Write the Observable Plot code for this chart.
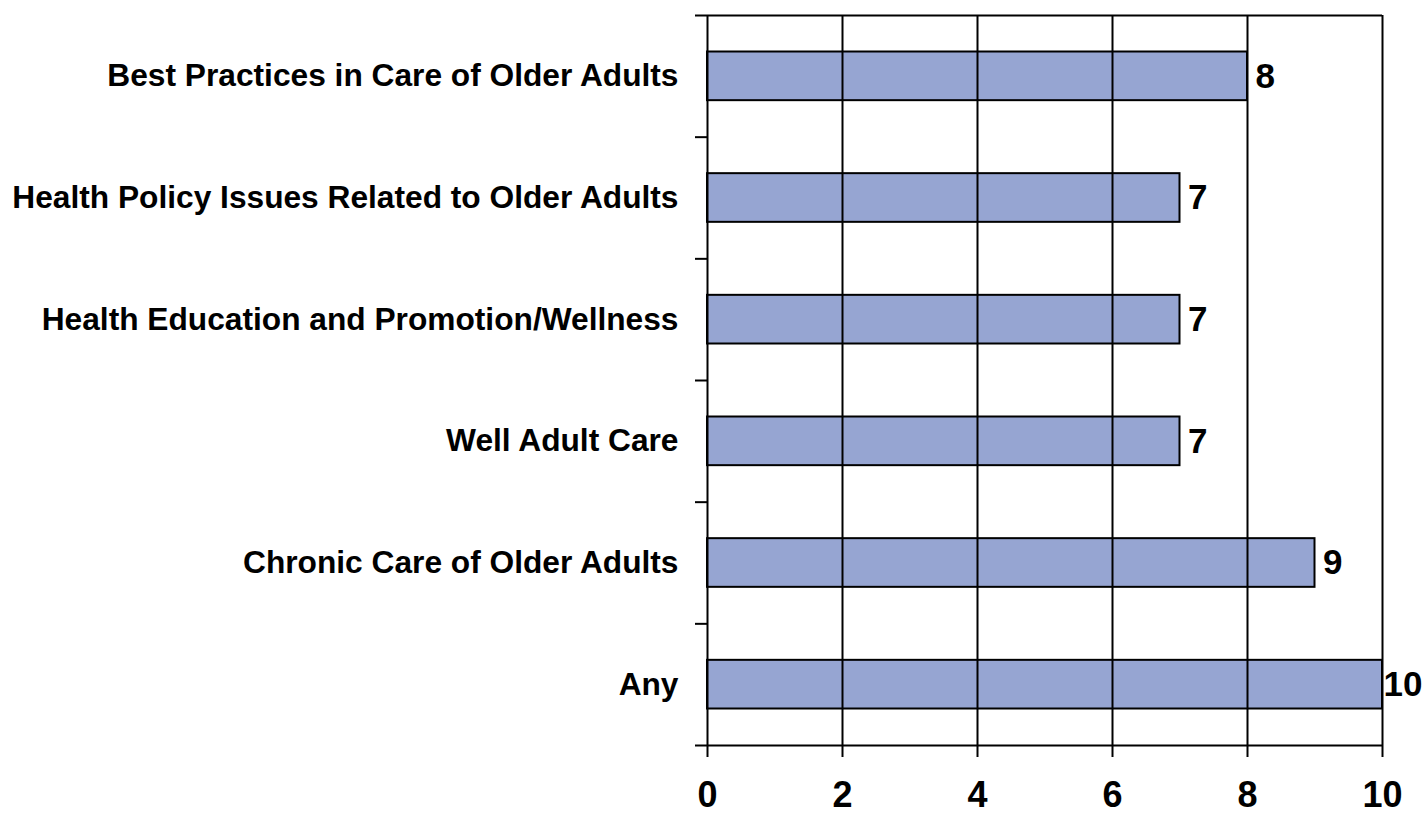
<!DOCTYPE html>
<html>
<head>
<meta charset="utf-8">
<script src="https://cdn.jsdelivr.net/npm/d3@7"></script>
<script src="https://cdn.jsdelivr.net/npm/@observablehq/plot@0.6"></script>
<style>
  html, body { margin: 0; padding: 0; background: #fff; }
</style>
</head>
<body>
<div id="chart"></div>
<script>
const categories = [
  "Best Practices in Care of Older Adults",
  "Health Policy Issues Related to Older Adults",
  "Health Education and Promotion/Wellness",
  "Well Adult Care",
  "Chronic Care of Older Adults",
  "Any"
];
const values = [8, 7, 7, 7, 9, 10];
const xTicks = [0, 2, 4, 6, 8, 10];

const rows = categories.map((c, i) => ({category: c, value: values[i], i}));
const bandEdges = d3.range(categories.length + 1);
const bandCenters = d3.range(categories.length).map(i => i + 0.5);
const xMax = d3.max(xTicks);

const chart = Plot.plot({
  width: 1425,
  height: 816,
  marginLeft: 707,
  marginRight: 43,
  marginTop: 15,
  marginBottom: 71,
  style: {fontFamily: "'Liberation Sans', Arial, sans-serif", fontWeight: "bold", color: "#000", background: "#fff"},
  x: {domain: [0, xMax], axis: null, label: null},
  y: {domain: [0, categories.length], reverse: true, axis: null, label: null},
  marks: [
    Plot.rectX(rows, {x1: 0, x2: "value", y1: d => d.i + 0.3, y2: d => d.i + 0.7, fill: "#96A5D2", stroke: "#000", strokeWidth: 2}),
    Plot.ruleX(xTicks, {y1: 0, y2: categories.length, stroke: "#000", strokeWidth: 2}),
    Plot.ruleY([0, categories.length], {x1: 0, x2: xMax, stroke: "#000", strokeWidth: 2}),
    Plot.axisY({ticks: bandEdges, tickFormat: () => "", tickSize: 12, strokeWidth: 2, label: null}),
    Plot.axisY({ticks: bandCenters, tickFormat: d => categories[Math.floor(d)], tickSize: 0, tickPadding: 29, fontSize: 31.7, label: null}),
    Plot.axisX({ticks: xTicks, tickSize: 12, tickPadding: 24, fontSize: 36, strokeWidth: 2, label: null}),
    Plot.text(rows.filter(d => d.value < xMax), {x: "value", y: d => d.i + 0.5, text: d => String(d.value), dx: 8, textAnchor: "start", fontSize: 35, fontWeight: "bold", fill: "#000"}),
    Plot.text(rows.filter(d => d.value >= xMax), {x: "value", y: d => d.i + 0.5, text: d => String(d.value), dx: 1, textAnchor: "start", fontSize: 35, fontWeight: "bold", fill: "#000"})
  ]
});
document.getElementById("chart").appendChild(chart);
</script>
</body>
</html>
